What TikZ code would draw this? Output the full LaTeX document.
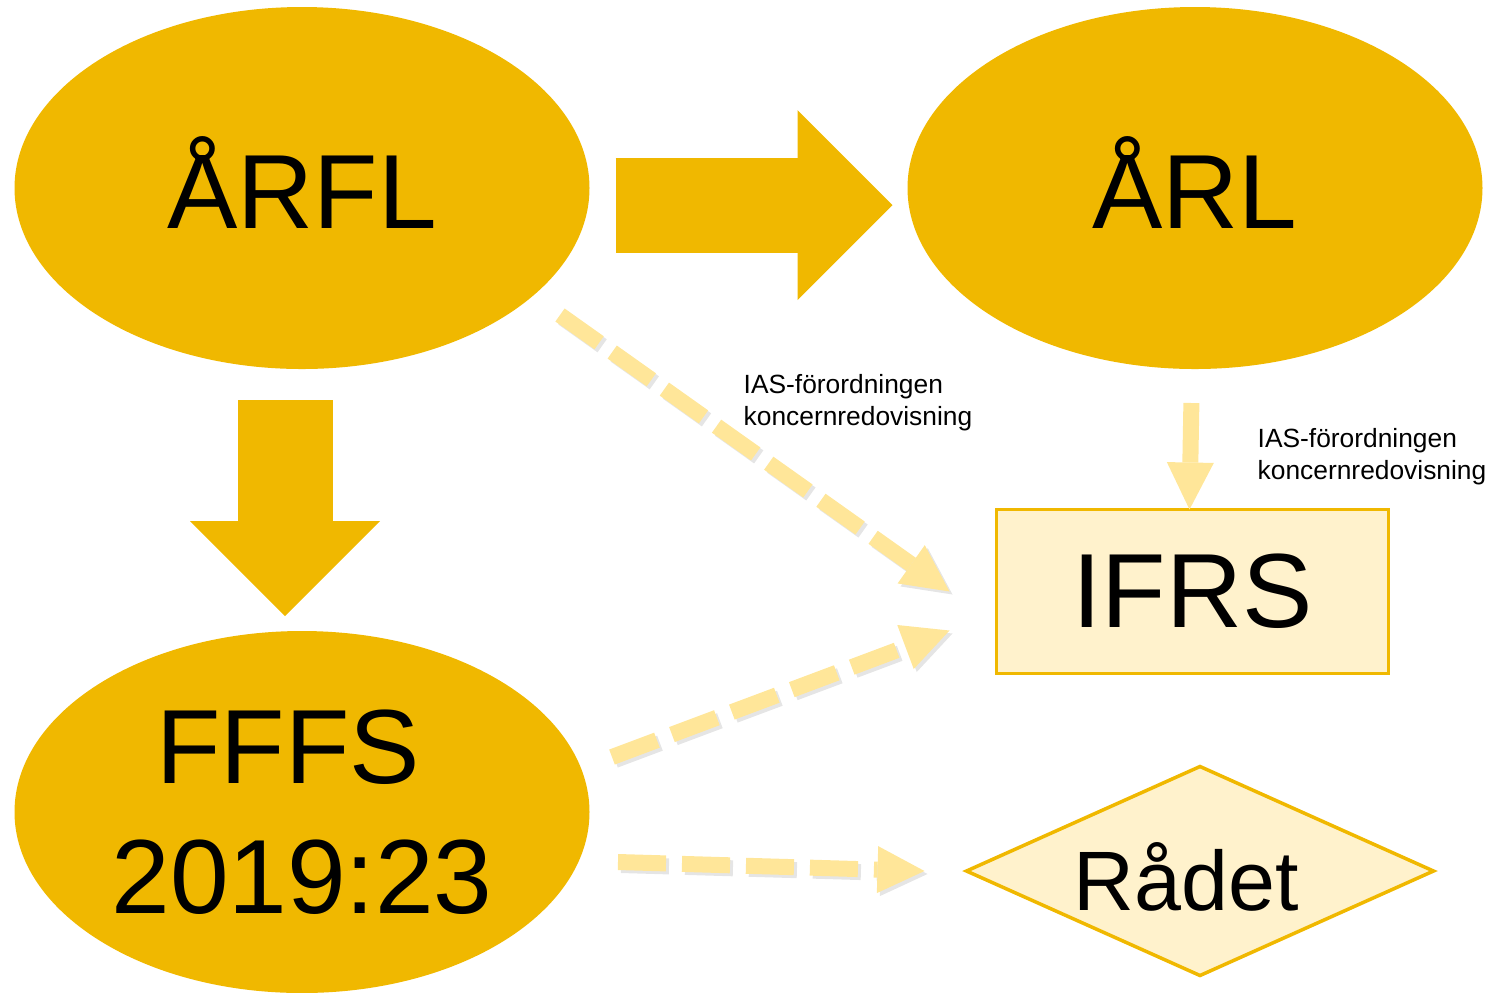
\documentclass[tikz,border=0pt]{standalone}
\usepackage{fontspec}
\setmainfont{Liberation Sans}
\usepackage{xcolor}
\usetikzlibrary{shapes.geometric, arrows.meta, positioning, calc}

\definecolor{gold}{HTML}{F0B800}
\definecolor{paleGold}{HTML}{FFF2CC}
\definecolor{lightGold}{HTML}{FFE699}

\begin{document}
\begin{tikzpicture}
    % Styles
    \tikzstyle{law} = [ellipse, fill=gold, minimum width=5.75cm, minimum height=3.62cm, inner sep=0pt, outer sep=0pt, align=center, font=\fontsize{30}{37}\selectfont]
    \tikzstyle{standard} = [rectangle, draw=gold, fill=paleGold, line width=1pt, minimum width=3.92cm, minimum height=1.64cm, outer sep=0pt, font=\fontsize{30}{36}\selectfont]
    \tikzstyle{council} = [diamond, aspect=2.2, draw=gold, fill=paleGold, line width=1pt, minimum width=4.67cm, minimum height=2.09cm, inner sep=0pt, outer sep=0pt, font=\fontsize{24}{29}\selectfont]
    \tikzstyle{note} = [align=left, inner sep=0pt, font=\fontsize{7.5}{9.1}\selectfont]
    \tikzstyle{bigarrow} = [draw=gold, line width=0.95cm, -{Triangle[length=0.95cm, width=1.9cm, line width=0pt]}]
    \tikzstyle{line} = [draw=lightGold, line width=0.16cm, -{Triangle[length=0.47cm, width=0.47cm, line width=0pt]}]
    \tikzstyle{dashline} = [line, dash pattern=on 0.48cm off 0.16cm,
        preaction={draw=black, opacity=0.1, line width=0.16cm, dash pattern=on 0.48cm off 0.16cm, transform canvas={shift={(0.03cm,-0.03cm)}}}]

    \useasboundingbox (0,0) rectangle (14.89,-9.92);

    % Nodes
    \node [law, text height=0.8cm, text depth=0pt] (arfl) at (3.02,-1.88) {ÅRFL};
    \node [law, text height=0.8cm, text depth=0pt] (arl) at (11.95,-1.88) {ÅRL};
    \node [law] (fffs) at (3.02,-8.12) {FFFS\rule{0.28cm}{0pt}\\2019:23};
    \node [standard] (ifrs) at (11.925,-5.915) {IFRS};
    \node [council, text height=0.78cm, text depth=0pt] (radet) at (12.00,-8.71) {Rådet\rule{0.28cm}{0pt}};

    % labels, anchored at the last baseline
    \node [note, anchor=base west] (iasA) at (7.43,-4.25) {IAS-förordningen\\koncernredovisning};
    \node [note, anchor=base west] (iasB) at (12.57,-4.79) {IAS-förordningen\\koncernredovisning};

    \coordinate (fromArfl) at (5.60,-3.15);
    \coordinate (fromFffsA) at (6.12,-7.57);
    \coordinate (fromFffsB) at (6.18,-8.62);

    % Paths
    \path [bigarrow, shorten <=0.26cm, shorten >=0.15cm] ([yshift=-0.17cm]arfl.east) -- ([yshift=-0.17cm]arl.west);
    \path [bigarrow, shorten <=0.31cm, shorten >=0.15cm] ([xshift=-0.17cm]arfl.south) -- ([xshift=-0.17cm]fffs.north);
    \path [line, shorten <=0.34cm] ([xshift=-0.03cm]arl.south) -- ([xshift=-0.03cm]ifrs.north);
    \path [dashline] (fromArfl) -- ([xshift=-0.47cm]ifrs.west);
    \path [dashline] (fromFffsA) -- ([xshift=-0.47cm, yshift=0.43cm]ifrs.south west);
    \path [dashline] (fromFffsB) -- ([xshift=-0.42cm]radet.west);
\end{tikzpicture}
\end{document}
